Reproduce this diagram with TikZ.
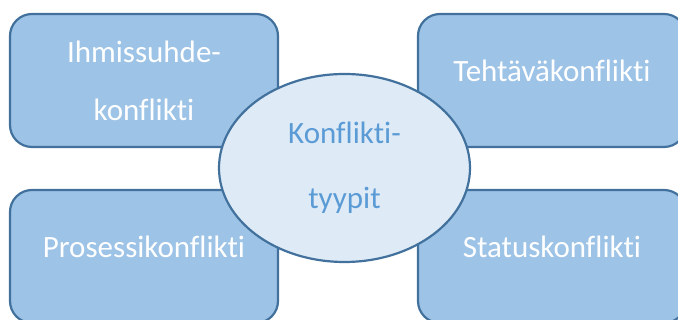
\documentclass[tikz,border=0pt]{standalone}
\usepackage{fontspec}
\setmainfont[Ligatures=NoCommon]{Carlito}
\usetikzlibrary{shapes.geometric}
\definecolor{boxfill}{HTML}{9DC3E6}
\definecolor{edgeblue}{HTML}{41719C}
\definecolor{hubfill}{HTML}{DEEBF7}
\definecolor{hubtext}{HTML}{5B9BD5}
\tikzset{
  x=1pt, y=1pt,
  typebox/.style={draw=edgeblue, fill=boxfill, line width=2.2pt,
    rounded corners=22pt, minimum width=268pt, minimum height=133pt,
    inner sep=0pt},
  boxtext/.style={text=white, align=center, inner sep=0pt,
    font=\fontsize{31}{58}\selectfont},
  hub/.style={ellipse, draw=edgeblue, fill=hubfill, line width=2.2pt,
    minimum width=251pt, minimum height=188pt, inner sep=0pt,
    text=hubtext, align=center, font=\fontsize{31}{65}\selectfont},
}
\begin{document}
\begin{tikzpicture}
\useasboundingbox (0,0) rectangle (678,320);
\clip (0,0) rectangle (678,320);
% the four conflict types
\node[typebox] (ihm) at (144,239.5) {};
\node[typebox] (teh) at (552,239.5) {};
\node[typebox] (pro) at (144,63.5) {};
\node[typebox] (sta) at (552,63.5) {};
\node[boxtext] (ihmt) at (ihm.center) {Ihmissuhde-\\konflikti};
\node[boxtext, anchor=base] (teht) at ([yshift=-1.5pt]teh.center) {Tehtäväkonflikti};
\node[boxtext, anchor=base] (prot) at ([yshift=-1.5pt]pro.center) {Prosessikonflikti};
\node[boxtext, anchor=base] (stat) at ([yshift=-1.5pt]sta.center) {Statuskonflikti};
% central hub
\node[hub] (kon) at (344.5,152) {Konflikti-\\tyypit};
\end{tikzpicture}
\end{document}
